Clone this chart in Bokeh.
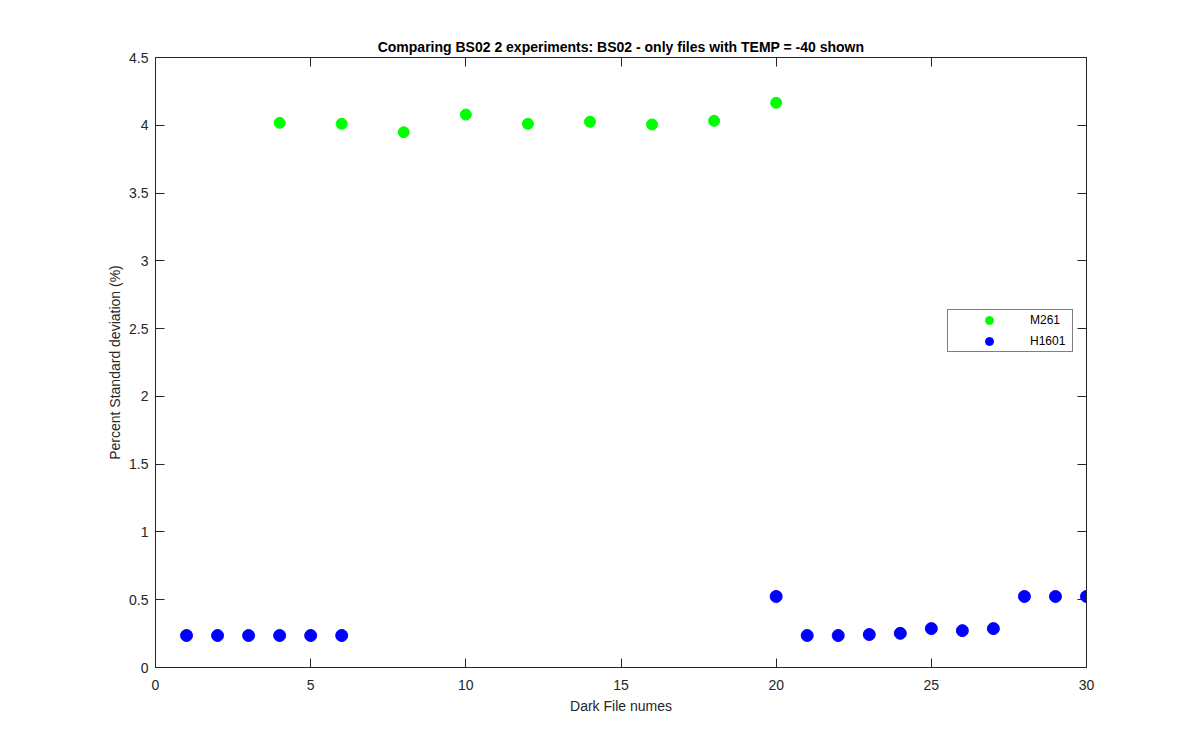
from bokeh.plotting import figure
from bokeh.models import Range1d, LinearAxis, Legend, LegendItem, FixedTicker
from bokeh.embed import file_html
from bokeh.resources import INLINE

m261_x = [4, 6, 8, 10, 12, 14, 16, 18, 20]
m261_y = [4.018, 4.011, 3.949, 4.079, 4.011, 4.026, 4.006, 4.033, 4.166]

h1601_x = [1, 2, 3, 4, 5, 6, 20, 21, 22, 23, 24, 25, 26, 27, 28, 29, 30]
h1601_y = [0.236, 0.236, 0.236, 0.236, 0.236, 0.236, 0.524, 0.236, 0.236,
           0.243, 0.252, 0.287, 0.272, 0.287, 0.524, 0.524, 0.524]

x_ticks = [0, 5, 10, 15, 20, 25, 30]
y_ticks = [0, 0.5, 1, 1.5, 2, 2.5, 3, 3.5, 4, 4.5]

FONT = "Liberation Sans"
AX = "#262626"

p = figure(width=1184, height=734, output_backend="svg", toolbar_location=None,
           x_range=Range1d(0, 30), y_range=Range1d(0, 4.5),
           min_border_left=155, min_border_right=98, min_border_top=57,
           min_border_bottom=67,
           title="Comparing BS02 2 experiments: BS02 - only files with TEMP = -40 shown")
p.title.align = "center"
p.title.text_font = FONT
p.title.text_font_size = "14px"
p.title.text_font_style = "bold"
p.title.text_color = "black"
p.title.standoff = 6
p.grid.visible = False
p.outline_line_color = None
p.background_fill_color = "white"
p.border_fill_color = "white"

for ax in p.xaxis + p.yaxis:
    ax.axis_line_color = AX
    ax.major_tick_line_color = AX
    ax.major_tick_in = 9
    ax.major_tick_out = 0
    ax.minor_tick_line_color = None
    ax.major_label_text_font = FONT
    ax.major_label_text_font_size = "14px"
    ax.major_label_text_color = AX
    ax.axis_label_text_font = FONT
    ax.axis_label_text_font_size = "14px"
    ax.axis_label_text_font_style = "normal"
    ax.axis_label_text_color = AX

p.xaxis.ticker = FixedTicker(ticks=x_ticks)
p.yaxis.ticker = FixedTicker(ticks=y_ticks)
p.xaxis.axis_label = "Dark File numes"
p.yaxis.axis_label = "Percent Standard deviation (%)"
p.xaxis.major_label_standoff = 12
p.xaxis.axis_label_standoff = 5
p.yaxis.major_label_standoff = 7
p.yaxis.axis_label_standoff = 3

top = LinearAxis(ticker=FixedTicker(ticks=x_ticks))
right = LinearAxis(ticker=FixedTicker(ticks=y_ticks))
for ax in (top, right):
    ax.axis_line_color = AX
    ax.major_tick_line_color = AX
    ax.major_tick_in = 9
    ax.major_tick_out = 0
    ax.minor_tick_line_color = None
    ax.major_label_text_font_size = "0px"
    ax.major_label_text_color = None
    ax.major_label_standoff = 0
p.add_layout(top, "above")
p.add_layout(right, "right")

g = p.scatter(m261_x, m261_y, size=11, color="#00ff00", line_color="#00ff00")
b = p.scatter(h1601_x, h1601_y, size=12, color="#0000ff", line_color="#0000ff")

legend = Legend(items=[LegendItem(label="M261", renderers=[g]),
                       LegendItem(label="H1601", renderers=[b])],
                location=(792, 315))
legend.border_line_color = "black"
legend.border_line_width = 1.5
legend.background_fill_color = "white"
legend.background_fill_alpha = 1
legend.padding = 0
legend.margin = 0
legend.spacing = 1
legend.glyph_width = 82
legend.glyph_height = 20
legend.label_height = 20
legend.label_standoff = 0
legend.label_width = 42
legend.label_text_font = FONT
legend.label_text_font_size = "12px"
legend.label_text_color = "black"
legend.label_text_baseline = "middle"
p.add_layout(legend, "center")

open("out.html", "w").write(file_html(p, INLINE))
